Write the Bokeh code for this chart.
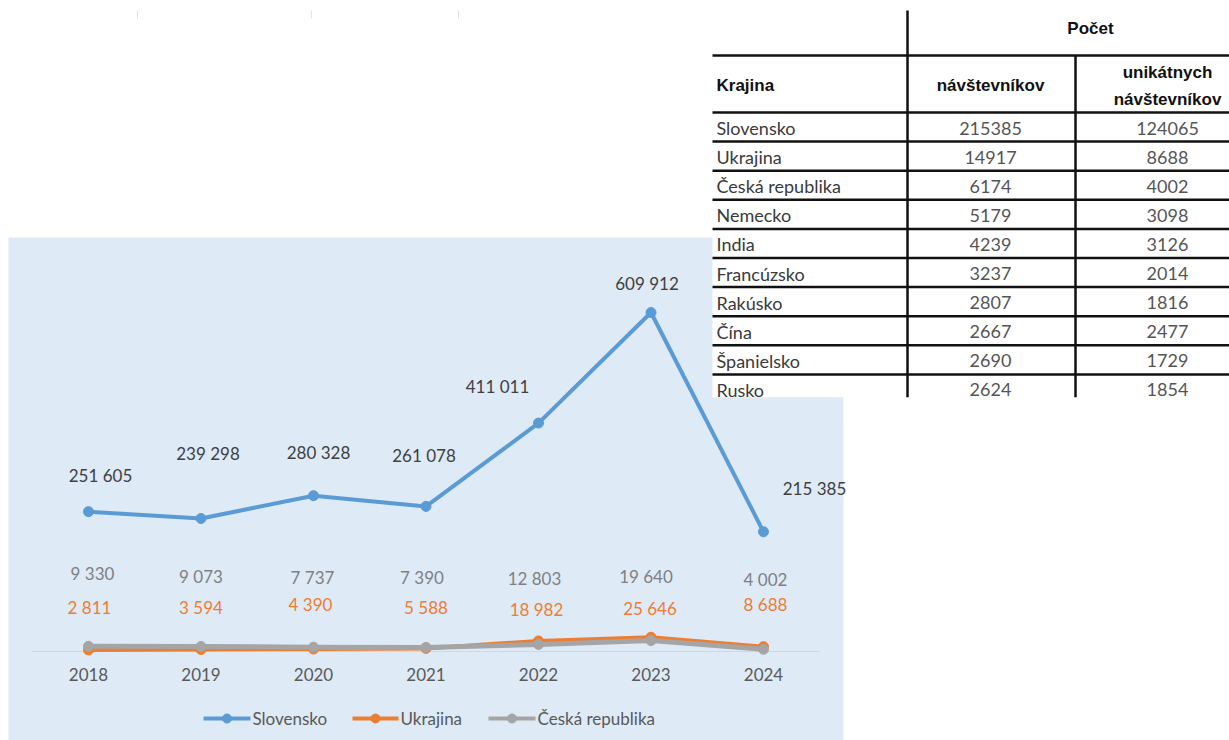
from bokeh.plotting import figure
from bokeh.models import Range1d, ColumnDataSource
from bokeh.embed import file_html
from bokeh.resources import INLINE
from bokeh.core.properties import value

# ---------------- data ----------------
years = ["2018", "2019", "2020", "2021", "2022", "2023", "2024"]
slovensko = [251605, 239298, 280328, 261078, 411011, 609912, 215385]
ukrajina = [2811, 3594, 4390, 5588, 18982, 25646, 8688]
ceska = [9330, 9073, 7737, 7390, 12803, 19640, 4002]
series_names = ["Slovensko", "Ukrajina", "Česká republika"]

table_group_header = "Počet"
table_headers = ["Krajina", "návštevníkov", "unikátnych", "návštevníkov"]
krajina = ["Slovensko", "Ukrajina", "Česká republika", "Nemecko", "India",
           "Francúzsko", "Rakúsko", "Čína", "Španielsko", "Rusko"]
navstevnikov = [215385, 14917, 6174, 5179, 4239, 3237, 2807, 2667, 2690, 2624]
unikatnych = [124065, 8688, 4002, 3098, 3126, 2014, 1816, 2477, 1729, 1854]

# ---------------- style ----------------
FONT = "Lato"
HFONT = "Liberation Sans"
C_SK, C_UA, C_CZ = "#5B9BD5", "#ED7D31", "#A5A5A5"
BG = "#DEEAF6"

W, H = 1229, 740
p = figure(width=W, height=H, x_range=Range1d(0, W), y_range=Range1d(H, 0),
           output_backend="svg", toolbar_location=None, min_border=0,
           x_axis_location=None, y_axis_location=None,
           background_fill_color="white", border_fill_color="white",
           outline_line_color=None)
p.grid.visible = False

# chart scales (page pixel layout of the reference)
X0, DX = 88, 112.5          # x pixel of first category, spacing
Y0, K = 651, 339 / 609912   # pixel of zero, px per unit
yr_num = [int(y) for y in years]
p.extra_x_ranges = {"cx": Range1d(yr_num[0] + (0 - X0) / DX, yr_num[0] + (W - X0) / DX)}
p.extra_y_ranges = {"cy": Range1d((Y0 - H) / K, Y0 / K)}

# faint marks at the top
p.segment(x0=[137, 311, 458], y0=10, x1=[137, 311, 458], y1=18, line_color="#e3e3e3", line_width=1)

# chart panel
p.quad(left=8, right=843, top=237, bottom=H + 5, fill_color=BG, line_color=None)

# ---------------- table ----------------
TL, TR = 712, W + 5
p.quad(left=TL, right=TR, top=0, bottom=397, fill_color="white", line_color=None)
row_top = 112
pitch = 29.1
hl = [55, row_top] + [row_top + pitch * i for i in range(1, len(krajina))]
p.segment(x0=TL, y0=hl, x1=TR, y1=hl, line_color="#111111", line_width=2.5)
p.segment(x0=[907, 1075], y0=[10, 55], x1=[907, 1075], y1=[397, 397],
          line_color="#111111", line_width=2.5)

p.text(x=[1090], y=[28], text=[table_group_header], text_font=value(HFONT), text_font_style="bold",
       text_font_size="17px", text_color="#111111", text_align="center", text_baseline="middle")
p.text(x=[716], y=[85], text=[table_headers[0]], text_font=value(HFONT), text_font_style="bold",
       text_font_size="17px", text_color="#111111", text_align="left", text_baseline="middle")
p.text(x=[990, 1167, 1167], y=[85, 72, 99], text=table_headers[1:], text_font=value(HFONT),
       text_font_style="bold", text_font_size="17px", text_color="#111111",
       text_align="center", text_baseline="middle")

row_y = [row_top + pitch * i + 15.5 for i in range(len(krajina))]
p.text(x=[716] * len(krajina), y=row_y, text=krajina, text_font=value(FONT),
       text_font_size="18px", text_color="#3a3a3a", text_align="left", text_baseline="middle")
p.text(x=[990] * len(krajina), y=row_y, text=[str(v) for v in navstevnikov], text_font=value(FONT),
       text_font_size="18px", text_color="#555555", text_align="center", text_baseline="middle")
p.text(x=[1167] * len(krajina), y=row_y, text=[str(v) for v in unikatnych], text_font=value(FONT),
       text_font_size="18px", text_color="#555555", text_align="center", text_baseline="middle")

# table is cut at the bottom
p.quad(left=TL, right=843, top=397, bottom=430, fill_color=BG, line_color=None)
p.quad(left=843, right=TR, top=397, bottom=430, fill_color="white", line_color=None)

# ---------------- chart ----------------
def fmt(v):
    return f"{v:,}".replace(",", " ")

# axis line and category labels
p.segment(x0=[yr_num[0] - 0.5], y0=[0], x1=[yr_num[-1] + 0.5], y1=[0],
          x_range_name="cx", y_range_name="cy", line_color="#d9d5d5", line_width=1.2)
p.text(x=yr_num, y=[0] * len(years), text=years, y_offset=23, x_range_name="cx", y_range_name="cy",
       text_font=value(FONT), text_font_size="17px", text_color="#595959",
       text_align="center", text_baseline="middle")

series = [
    (slovensko, C_SK, 4, 10),
    (ukrajina, C_UA, 4, 10),
    (ceska, C_CZ, 5, 10),
]
for vals, col, lw, ms in series:
    p.line(x=yr_num, y=vals, x_range_name="cx", y_range_name="cy", line_color=col, line_width=lw,
           line_join="round")
    p.scatter(x=yr_num, y=vals, x_range_name="cx", y_range_name="cy", size=ms, fill_color=col,
              line_color=col)

# data labels (offsets in pixels, as placed in the reference)
label_specs = [
    (slovensko, "#404040", [12, 7, 5, -2, -41, -4, 51], [-36, -65, -43, -51, -37, -29, -43]),
    (ceska, "#808080", [4, 0, -1, -4, -4, -5, 2], [-73, -70, -70, -70, -66, -64, -70]),
    (ukrajina, C_UA, [1, 0, -3, 0, -2, -1, 2], [-42, -42, -45, -41, -31, -29, -42]),
]
for vals, col, dxs, dys in label_specs:
    src = ColumnDataSource(dict(x=yr_num, y=vals, t=[fmt(v) for v in vals], dx=dxs, dy=dys))
    p.text(x="x", y="y", text="t", x_offset="dx", y_offset="dy", source=src,
           x_range_name="cx", y_range_name="cy", text_font=value(FONT), text_font_size="17px",
           text_color=col, text_align="center", text_baseline="middle")

# legend
LY = 718
leg = [(203, 250, C_SK), (352, 398, C_UA), (488, 535, C_CZ)]
p.segment(x0=[a for a, b, c in leg], y0=LY, x1=[b for a, b, c in leg], y1=LY,
          line_color=[c for a, b, c in leg], line_width=4)
p.scatter(x=[(a + b) / 2 for a, b, c in leg], y=[LY] * 3, size=9,
          fill_color=[c for a, b, c in leg], line_color=[c for a, b, c in leg])
p.text(x=[b + 2 for a, b, c in leg], y=[LY] * 3, text=series_names, text_font=value(FONT),
       text_font_size="17px", text_color="#595959", text_align="left", text_baseline="middle")

open("out.html", "w").write(file_html(p, INLINE))
